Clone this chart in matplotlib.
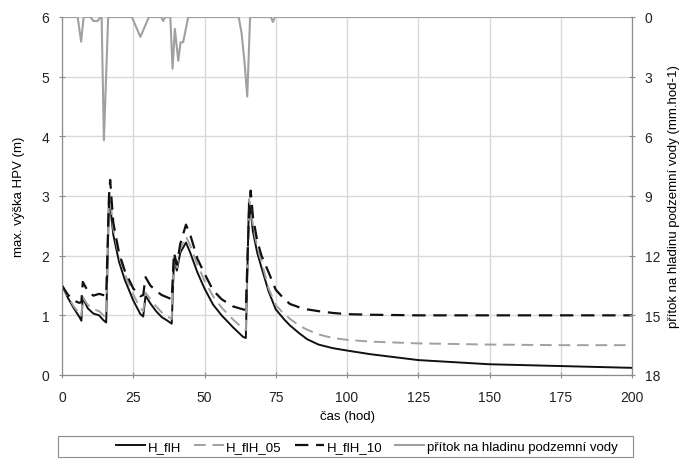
import matplotlib
matplotlib.use("Agg")
import matplotlib.pyplot as plt
from matplotlib.patches import Rectangle

plt.rcParams['font.family'] = ['Liberation Sans', 'DejaVu Sans']

# hladina podzemni vody (m)
t = [0, 2, 4, 6, 6.8, 7.3, 9, 11, 13, 14.5, 15.5, 16.5, 16.9, 18, 20, 22, 25, 27.5,
     28.5, 29.3, 31, 33, 35, 37, 38.5, 39.3, 40.3, 41.5, 43.5, 45, 47.5, 50, 53, 56,
     60, 63.5, 64.5, 65.6, 66.2, 67, 68.5, 70, 72.5, 75, 78, 80, 83.5, 86, 90, 95,
     100, 108, 125, 150, 175, 200]
H_flH = [1.50, 1.30, 1.13, 0.98, 0.91, 1.30, 1.12, 1.03, 1.00, 0.92, 0.88, 3.00, 2.85,
         2.35, 1.90, 1.60, 1.25, 1.02, 0.98, 1.33, 1.20, 1.07, 0.97, 0.91, 0.86, 1.95,
         1.75, 2.05, 2.22, 2.05, 1.72, 1.45, 1.18, 1.00, 0.80, 0.64, 0.62, 2.90, 2.75,
         2.40, 2.05, 1.80, 1.40, 1.10, 0.93, 0.83, 0.69, 0.60, 0.51, 0.45, 0.41, 0.35,
         0.25, 0.18, 0.15, 0.12]
H_flH_05 = [1.50, 1.32, 1.16, 1.03, 0.98, 1.30, 1.18, 1.10, 1.07, 1.00, 0.97, 3.05,
            2.95, 2.45, 2.00, 1.70, 1.35, 1.12, 1.07, 1.38, 1.27, 1.15, 1.05, 0.98,
            0.94, 1.98, 1.80, 2.12, 2.32, 2.17, 1.85, 1.58, 1.32, 1.13, 0.93, 0.78,
            0.75, 2.95, 2.82, 2.50, 2.15, 1.90, 1.45, 1.17, 1.02, 0.94, 0.82, 0.76,
            0.68, 0.62, 0.59, 0.56, 0.53, 0.51, 0.50, 0.50]
H_flH_10 = [1.50, 1.35, 1.25, 1.21, 1.22, 1.56, 1.41, 1.33, 1.36, 1.34, 1.33, 3.00,
            3.27, 2.55, 2.05, 1.75, 1.45, 1.32, 1.34, 1.64, 1.50, 1.41, 1.34, 1.30,
            1.27, 2.05, 1.85, 2.20, 2.52, 2.35, 1.95, 1.70, 1.42, 1.27, 1.15, 1.10,
            1.09, 2.70, 3.09, 2.65, 2.25, 2.00, 1.72, 1.43, 1.27, 1.19, 1.13, 1.10,
            1.07, 1.04, 1.02, 1.01, 1.00, 1.00, 1.00, 1.00]

# pritok na hladinu (mm/hod)
t_in = [0, 5.5, 6.7, 7.6, 10, 11, 12.5, 13.5, 13.9, 14.7, 16.2, 24.5, 27.5, 30.5,
        34.8, 35.5, 36.2, 38, 38.8, 39.6, 40.8, 41.6, 42.5, 44.3, 62, 63, 64, 65, 66,
        73.3, 74, 74.7, 200]
pritok = [0, 0, 1.24, 0, 0, 0.2, 0.2, 0, 0, 6.2, 0, 0, 1.0, 0,
          0, 0.2, 0, 0, 2.6, 0.6, 2.2, 1.27, 1.27, 0, 0, 0.8, 2.2, 4.0, 0,
          0, 0.25, 0, 0]

xticks = [0, 25, 50, 75, 100, 125, 150, 175, 200]
yticks = [0, 1, 2, 3, 4, 5, 6]
y2ticks = [0, 3, 6, 9, 12, 15, 18]

fig = plt.figure(figsize=(6.84, 4.64), dpi=100)
ax = fig.add_axes([62/684, 1-376/464, 570/684, 358/464])
ax2 = ax.twinx()

gridc = '#d9d9d9'
spc = '#8c8c8c'

l1, = ax.plot(t, H_flH, c='#111111', lw=1.4)
l2, = ax.plot(t, H_flH_05, c='#a0a0a0', lw=1.4, dashes=(6, 3.5))
l3, = ax.plot(t, H_flH_10, c='#111111', lw=1.6, dashes=(6, 3.5))
l4, = ax2.plot(t_in, pritok, c='#a0a0a0', lw=1.5)

ax.set_xlim(0, 200)
ax.set_ylim(0, 6)
ax.set_xticks(xticks)
ax.set_yticks(yticks)
ax.grid(True, color=gridc, lw=1)
ax.set_axisbelow(True)
ax2.set_ylim(18, 0)
ax2.set_yticks(y2ticks)

for a in (ax, ax2):
    for s in a.spines.values():
        s.set_color(spc)
    a.spines['top'].set_visible(False)
    a.tick_params(colors='#222222', labelsize=10, length=4, direction='inout',
                  color=spc, pad=7)
ax.tick_params(axis='x', pad=9)

ax.set_xlabel('čas (hod)', fontsize=9.5, labelpad=4)
ax.set_ylabel('max. výška HPV (m)', fontsize=9.5, labelpad=12)
ax2.set_ylabel('přítok na hladinu podzemní vody (mm.hod-1)', fontsize=9.5, labelpad=6)

# ramecek legendy
fig.patches.append(Rectangle((58/684, 6/464), 575/684, 21/464, transform=fig.transFigure,
                             fill=False, ec=spc, lw=0.8))
leg = fig.legend([l1, l2, l3, l4],
                 ['H_flH', 'H_flH_05', 'H_flH_10', 'přítok na hladinu podzemní vody'],
                 loc='center', bbox_to_anchor=(367/684, 16.5/464), ncol=4, fontsize=9.5,
                 frameon=False, handlelength=2.2, handletextpad=0.2, columnspacing=1.0,
                 borderpad=0, borderaxespad=0)

fig.savefig('out.png', dpi=100)
